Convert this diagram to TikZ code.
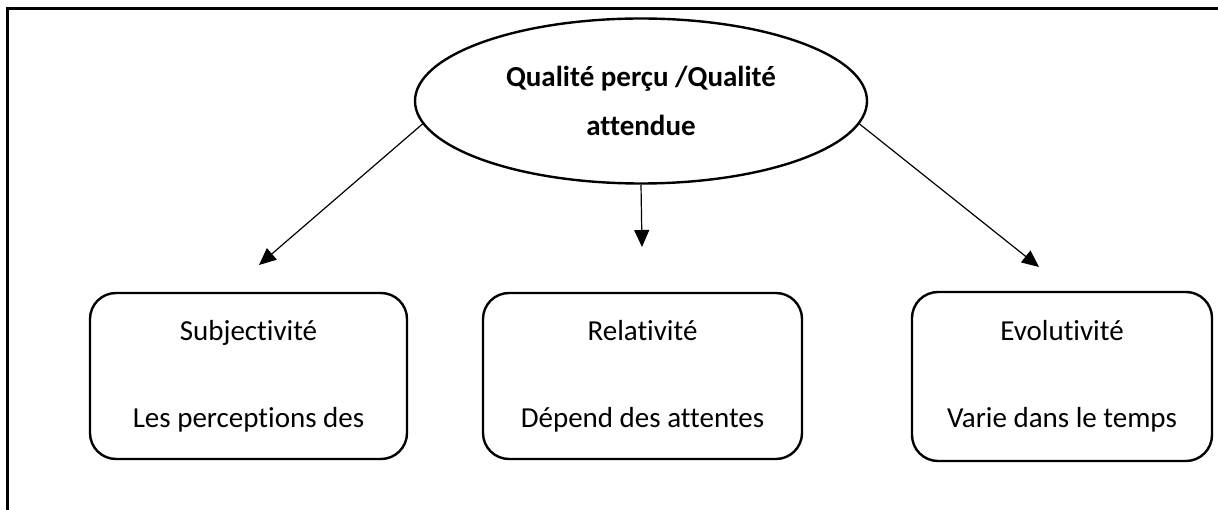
\documentclass[tikz,border=0pt]{standalone}
\usepackage{fontspec}
\setmainfont{Carlito}[Ligatures=NoCommon]
\usetikzlibrary{shapes.geometric,arrows.meta}
\begin{document}
\begin{tikzpicture}[x=1pt,y=-1pt,
  frameline/.style={line width=3pt},
  topic/.style={ellipse,draw,line width=2.4pt,minimum width=452pt,minimum height=165pt,
    inner sep=0pt,align=center,font=\fontsize{29}{35}\selectfont\bfseries},
  aspect/.style={rounded corners=26pt,draw,line width=2.4pt,minimum height=166pt,
    inner sep=0pt,align=center,font=\fontsize{29}{35}\selectfont},
  link/.style={line width=1.2pt,-{Triangle[length=17pt,width=15pt]}}]
\useasboundingbox (0,0) rectangle (1218,510);
% open frame: top and left edges only
\draw[frameline] (7,510) -- (7,9) -- (1218,9);
% central ellipse
\node[topic] (title) at (641,101) {Qualité perçu /Qualité\\[14pt]attendue};
% three aspect boxes
\node[aspect,minimum width=317pt] (subj) at (248.5,376) {Subjectivité\\[52pt]Les perceptions des};
\node[aspect,minimum width=319pt] (rel) at (642.5,376) {Relativité\\[52pt]Dépend des attentes};
\node[aspect,minimum width=300pt,minimum height=169pt] (evo) at (1062,376.5) {Evolutivité\\[52pt]Varie dans le temps};
% arrow tips stop short of the boxes
\coordinate (tipL) at (259,265);
\coordinate (tipM) at (642,247);
\coordinate (tipR) at (1039,267);
\draw[link] (title.186) -- (tipL);
\draw[link] (title.south) -- (tipM);
\draw[link] (title.354) -- (tipR);
\end{tikzpicture}
\end{document}
